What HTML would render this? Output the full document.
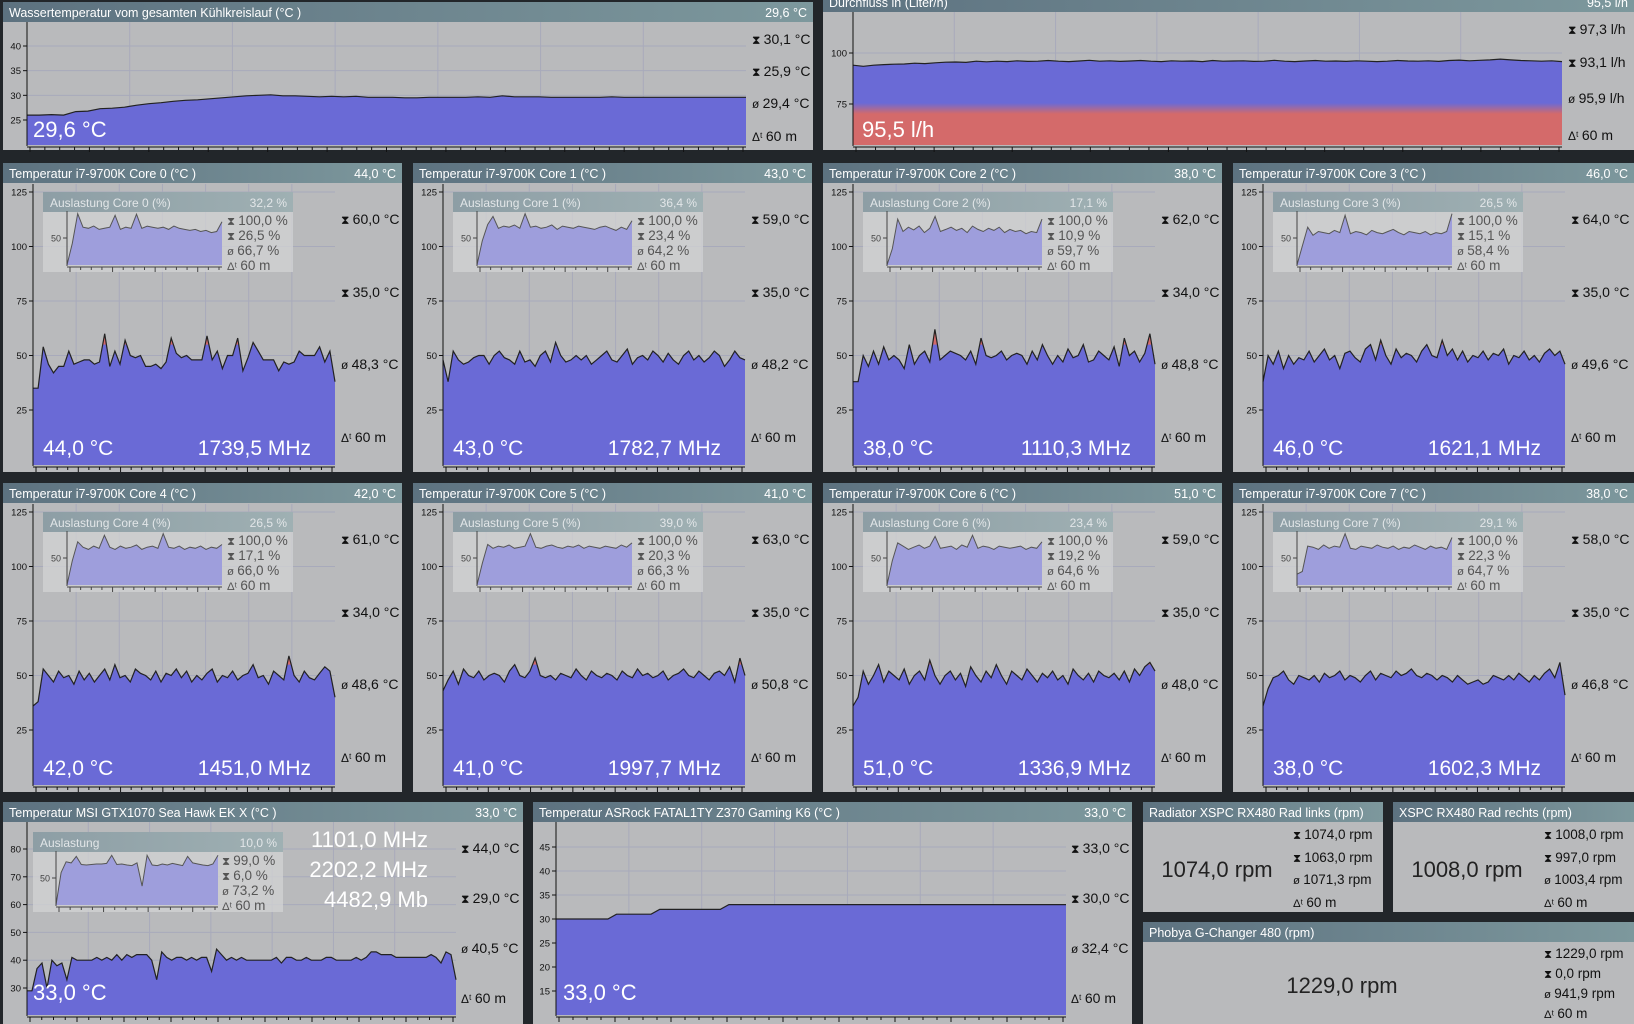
<!DOCTYPE html>
<html><head><meta charset="utf-8">
<style>
html,body{margin:0;padding:0;background:#22262a;width:1634px;height:1024px;overflow:hidden}
svg{display:block;font-family:"Liberation Sans","DejaVu Sans",sans-serif}
</style></head>
<body>
<svg id="root" xmlns="http://www.w3.org/2000/svg" width="1634" height="1024" viewBox="0 0 1634 1024">
<defs>
<linearGradient id="hdr" x1="0" x2="1" y1="0" y2="0"><stop offset="0" stop-color="#5d7280"/><stop offset="1" stop-color="#7d989d"/></linearGradient>
<linearGradient id="ihdr" x1="0" x2="1" y1="0" y2="0"><stop offset="0" stop-color="#8d9ea5"/><stop offset="1" stop-color="#9fb0b3"/></linearGradient>
<linearGradient id="flowgrad" gradientUnits="userSpaceOnUse" x1="0" x2="0" y1="103" y2="114"><stop offset="0" stop-color="#6a6ad6"/><stop offset="1" stop-color="#d46a6a"/></linearGradient>
</defs>
<rect x="0" y="0" width="1634" height="1024" fill="#22262a"/>
</svg>
<script>
// ---- data ----
const waterTemp = [26,26,26.1,26,26.7,26.8,27.3,27.4,27.6,28,28.3,28.5,28.8,29,29.1,29.3,29.5,29.7,29.9,30,30.1,29.9,29.9,29.8,29.7,29.8,29.7,29.8,29.6,29.6,29.6,29.5,29.5,29.6,29.6,29.6,29.6,29.7,29.6,29.9,29.7,29.7,29.7,29.6,29.6,29.6,29.6,29.6,29.7,29.6,29.6,29.6,29.6,29.6,29.6,29.6,29.6,29.6,29.6,29.6];
const flowRate = [94,93.5,94,94.3,94.5,94.6,95,94.8,95.2,95.5,95.6,95.4,96,95.7,96,95.8,96.2,95.9,96,96.3,96,95.8,96.1,96.4,96,96.2,95.9,96.1,96.3,96,95.8,96.2,96,96.1,95.8,96.3,96,96.1,96.2,95.9,96,96.4,96,95.8,96.1,96.3,96,96.1,95.9,96.2,96,95.8,96,96.3,96.1,96,96.2,95.9,96.3,96.5,96.2,96.4,96.6,97,96.6,96.3,96.2,96,96.2,95.8];
const core0 = [35,35,54,46,42,45,45,52,46,47,48,48,46,47,60,45,52,46,57,50,49,50,45,45,46,44,47,58,51,49,50,48,48,48,59,48,52,44,50,50,58,43,49,56,52,48,48,48,43,47,46,47,52,50,50,50,54,47,52,38];
const core1 = [48,38,52,48,46,47,49,50,50,46,50,52,49,48,46,52,47,48,45,50,52,47,56,50,47,48,50,48,50,46,48,50,52,48,47,50,53,46,49,50,48,52,50,47,51,48,46,50,52,48,50,47,49,52,50,45,48,52,49,48];
const core2 = [38,38,50,45,52,46,54,48,50,48,44,55,46,50,52,47,62,48,50,52,51,50,48,52,46,58,50,49,50,52,48,50,51,50,46,52,48,55,50,46,50,47,53,49,50,55,47,48,52,50,48,54,45,58,50,52,47,51,60,46];
const core3 = [38,50,46,52,44,50,46,49,48,52,47,50,53,48,50,44,51,52,49,47,53,55,48,57,50,46,53,49,51,50,47,52,55,50,49,57,50,53,48,52,47,50,49,52,48,51,50,53,46,50,49,52,48,50,47,51,53,50,52,46];
const core4 = [36,38,53,50,47,52,49,50,46,52,48,51,47,50,53,48,55,49,50,47,53,51,50,48,52,47,51,50,53,49,52,47,50,48,51,53,47,50,49,52,48,50,51,55,49,50,46,52,50,48,59,50,47,52,49,48,51,54,52,40];
const core5 = [43,48,52,46,53,50,49,52,48,50,51,50,47,52,55,50,49,52,58,50,49,50,48,51,50,49,53,50,48,52,50,49,51,50,48,52,50,49,53,50,51,49,50,52,48,50,51,53,50,49,52,50,48,51,52,50,54,47,58,50];
const core6 = [36,40,52,46,50,55,47,52,50,48,53,46,50,52,48,57,50,46,50,52,48,51,45,54,50,47,52,49,55,50,46,52,50,48,53,50,47,51,49,52,48,50,46,53,50,48,51,47,52,50,49,51,48,52,47,53,50,54,56,52];
const core7 = [36,44,49,50,52,48,46,50,49,48,50,47,51,49,50,52,48,50,49,47,50,52,48,51,50,49,52,50,51,53,50,49,51,50,48,50,49,47,50,48,46,47,48,46,47,50,49,48,50,48,51,49,47,50,48,51,53,49,56,41];
const use0 = [0,40,95,70,68,72,66,68,70,92,66,70,68,94,68,72,70,68,70,66,72,68,66,64,66,62,64,60,62,80];
const use1 = [0,45,75,90,68,72,70,74,68,95,70,72,68,70,74,66,72,70,68,72,70,68,66,70,72,68,64,70,66,82];
const use2 = [0,30,85,62,70,65,72,60,68,90,62,66,70,64,68,60,72,66,62,68,64,70,60,66,62,64,58,62,60,85];
const use3 = [0,35,70,55,62,60,58,64,60,92,58,62,60,56,64,60,58,62,66,60,56,62,60,58,62,56,60,58,62,95];
const use4 = [0,45,80,70,66,72,68,92,70,66,72,68,70,74,66,70,72,68,95,70,68,72,66,70,68,72,66,70,68,75];
const use5 = [0,40,75,68,72,70,74,68,70,72,95,70,68,72,74,70,68,72,70,74,68,72,70,68,72,70,68,74,70,78];
const use6 = [0,45,78,72,66,70,74,68,72,90,68,70,72,66,74,70,92,68,72,70,66,72,70,68,70,72,66,70,68,80];
const use7 = [20,25,72,70,66,74,68,72,70,95,68,66,72,70,68,74,70,68,72,66,70,68,74,70,66,72,68,70,66,88];
const gpuTemp = [29,29,37,39,30,40,38,39,33,41,40,40,40,40,41,40,41,40,42,40,42,41,42,42,42,40,33,43,41,40,41,41,40,41,40,41,41,36,44,42,40,41,40,41,40,40,40,40,40,40,41,39,41,41,40,40,41,40,40,40,41,41,40,40,40,40,41,40,41,43,43,42,42,42,41,41,41,41,41,41,41,42,41,39,43,42,33];
const gpuUse = [0,60,80,78,90,75,74,75,76,76,77,92,75,76,74,73,78,35,92,74,73,76,74,77,75,73,90,78,76,74,73,76,92];
const boardTemp = [30,30,30,30,30,30,30,31,31,31,31,31,32,32,32,32,32,32,32,32,33,33,33,33,33,33,33,33,33,33,33,33,33,33,33,33,33,33,33,33,33,33,33,33,33,33,33,33,33,33,33,33,33,33,33,33,33,33,33,33];
const coreSeries = [core0,core1,core2,core3,core4,core5,core6,core7];
const coreUse = [use0,use1,use2,use3,use4,use5,use6,use7];
const coreCur = ["44,0","43,0","38,0","46,0","42,0","41,0","51,0","38,0"];
const coreMHz = ["1739,5","1782,7","1110,3","1621,1","1451,0","1997,7","1336,9","1602,3"];
const coreMax = ["60,0","59,0","62,0","64,0","61,0","63,0","59,0","58,0"];
const coreMin = ["35,0","35,0","34,0","35,0","34,0","35,0","35,0","35,0"];
const coreAvg = ["48,3","48,2","48,8","49,6","48,6","50,8","48,0","46,8"];
const useCur = ["32,2","36,4","17,1","26,5","26,5","39,0","23,4","29,1"];
const useMin = ["26,5","23,4","10,9","15,1","17,1","20,3","19,2","22,3"];
const useAvg = ["66,7","64,2","59,7","58,4","66,0","66,3","64,6","64,7"];
const coreTicks = [25,50,75,100,125];

// ---- helpers ----
const NS="http://www.w3.org/2000/svg";
const svg=document.getElementById('root');
let clipN=0;
function mk(tag,a,p){const e=document.createElementNS(NS,tag);for(const k in a)e.setAttribute(k,a[k]);(p||svg).appendChild(e);return e;}
function txt(p,x,y,s,size,fill,anchor){const t=mk('text',{x:x,y:y,'font-size':size,fill:fill,'text-anchor':anchor||'start'},p);t.textContent=s;return t;}
function panel(x,y,w,h,title,val,name){
  const g=mk('g',{});
  
  
  const b=mk('rect',{x:x,y:y,width:w,height:h,fill:'#b9babc'},g);
  
  
  const hd=mk('rect',{x:x,y:y,width:w,height:20,fill:'url(#hdr)'},g);
  
  
  const t=txt(g,x+6,y+15,title,12.5,'#fff');
  
  
  if(val){const v=txt(g,x+w-6,y+15,val,12.5,'#fff','end');
    
    }
  return g;
}
function area(g,vals,x0,x1,yTop,yBot,va,ya,vb,yb,o){
  o=o||{};
  const yv=v=>ya+(v-va)*(yb-ya)/(vb-va);
  const xv=i=>x0+i*(x1-x0)/(vals.length-1);
  if(o.grid){
    for(let k=1;k<o.vg;k++){const gx=x0+k*(x1-x0)/o.vg;
      const l=mk('line',{x1:gx,x2:gx,y1:yTop,y2:yBot,stroke:'#a8aabb','stroke-width':1},g);
      
      }
    (o.ticks||[]).forEach(t=>{const l=mk('line',{x1:x0,x2:x1,y1:yv(t),y2:yv(t),stroke:'#a8aabb','stroke-width':1},g);
      
      });
  }
  let pts='';vals.forEach((v,i)=>{pts+=' L'+xv(i).toFixed(1)+','+yv(v).toFixed(1);});
  const d='M'+x0+','+yBot+pts+' L'+x1+','+yBot+' Z';
  if(o.red!==undefined){
    const r=mk('path',{d:d,fill:'#d46a6a'},g);
    
    
    const id='c'+(clipN++);
    const cp=mk('clipPath',{id:id},g);
    mk('rect',{x:x0-2,y:yv(o.red),width:x1-x0+4,height:yBot-yv(o.red)+2},cp);
    const a=mk('path',{d:d,fill:o.fill,'clip-path':'url(#'+id+')'},g);
    
    
  } else {
    const a=mk('path',{d:d,fill:o.fill},g);
    
    
  }
  const ln=mk('path',{d:'M'+pts.slice(2),fill:'none',stroke:o.line||'#222','stroke-width':o.lw||1.2},g);
  
  
  const ax=mk('line',{x1:x0,x2:x0,y1:yTop,y2:yBot+1,stroke:o.axc||'#111','stroke-width':1},g);
  
  
  (o.ticks||[]).forEach(t=>{
    mk('line',{x1:x0-4,x2:x0,y1:yv(t),y2:yv(t),stroke:o.axc||'#111'},g);
    const lb=txt(g,x0-6,yv(t)+3.5,String(t),o.tfs||9.5,o.axc||'#111','end');
    
    
  });
  const bx=mk('line',{x1:x0,x2:x1,y1:yBot+2,y2:yBot+2,stroke:o.axc||'#111','stroke-width':1},g);
  
  
  const nt=o.nt||24;
  for(let k=0;k<=nt;k++){const tx=x0+3+k*(x1-x0-6)/nt;
    mk('line',{x1:tx,x2:tx,y1:yBot+2,y2:yBot+(k%4==0?7:5),stroke:o.axc||'#111'},g);}
}
function stats(g,x,ys,arr,size,fill){
  const icons=['⧗','⧗','ø','Δᵗ'];
  const names=['stat-max','stat-min','stat-avg','stat-timespan'];
  arr.forEach((s,i)=>{const t=txt(g,x,ys[i]+size*0.36,'',size,fill);
    
    
    const a=mk('tspan',{'font-size':size*0.85},t);a.textContent=icons[i]+' ';
    const b=mk('tspan',{},t);b.textContent=s;});
}
function inset(g,x,y,w,title,val,vals,st,plotX0,plotX1,statX){
  const ig=mk('g',{},g);
  
  
  mk('rect',{x:x,y:y,width:w,height:80,fill:'#d3d3d4','fill-opacity':0.75},ig);
  mk('rect',{x:x,y:y,width:w,height:20,fill:'url(#ihdr)'},ig);
  const t=txt(ig,x+7,y+15,title,12,'#e2e6e8');
  
  
  const v=txt(ig,x+w-6,y+15,val,12,'#e2e6e8','end');
  
  
  area(ig,vals,plotX0,plotX1,y+19,y+73,0,y+73,100,y+19,{fill:'#9e9edc',line:'#555',lw:1,ticks:[50],tfs:9,axc:'#444',nt:14});
  stats(ig,statX,[y+28,y+43,y+58,y+73],st,13.5,'#555');
}

// ---- top panels ----
let g=panel(3,2,810,148,'Wassertemperatur vom gesamten Kühlkreislauf (°C )','29,6 °C','water-temperature-panel');
area(g,waterTemp,27,746,22,145,40,46,25,120,{fill:'#6a6ad6',grid:true,vg:7,ticks:[25,30,35,40],nt:48});
stats(g,752,[39,71,103,136],['30,1 °C','25,9 °C','29,4 °C','60 m'],14,'#111');
let bt=txt(g,33,137,'29,6 °C',22,'#fff');



g=panel(823,-8,811,158,'Durchfluss in (Liter/h)','95,5 l/h','flow-rate-panel');
area(g,flowRate,853,1562,12,145,100,53,75,104,{fill:'url(#flowgrad)',grid:true,vg:7,ticks:[75,100],nt:36});
stats(g,1568,[29,62,98,135],['97,3 l/h','93,1 l/h','95,9 l/h','60 m'],14,'#111');
bt=txt(g,862,137,'95,5 l/h',22,'#fff');



// ---- core panels ----
const colX=[3,413,823,1233];
const rowY=[163,483];
for(let c=0;c<8;c++){
  const X=colX[c%4], T=rowY[Math.floor(c/4)];
  const pg=panel(X,T,c%4==3?401:399,309,'Temperatur i7-9700K Core '+c+' (°C )',coreCur[c]+' °C','core-'+c+'-temperature-panel');
  area(pg,coreSeries[c],X+30,X+332,T+21,T+302,125,T+29,25,T+247,{fill:'#6a6ad6',red:55,grid:true,vg:7,ticks:coreTicks,nt:28});
  inset(pg,X+40,T+29,250,'Auslastung Core '+c+' (%)',useCur[c]+' %',coreUse[c],['100,0 %',useMin[c]+' %',useAvg[c]+' %','60 m'],X+64,X+219,X+224);
  stats(pg,X+338,[T+56,T+129,T+201,T+274],[coreMax[c]+' °C',coreMin[c]+' °C',coreAvg[c]+' °C','60 m'],14,'#111');
  const a=txt(pg,X+40,T+292,coreCur[c]+' °C',21,'#fff');
  
  
  const m=txt(pg,X+308,T+292,coreMHz[c]+' MHz',21,'#fff','end');
  
  
}

// ---- GPU ----
g=panel(3,802,520,222,'Temperatur MSI GTX1070 Sea Hawk EK X (°C )','33,0 °C','gpu-temperature-panel');
area(g,gpuTemp,27,456,822,1015,80,849,30,988,{fill:'#6a6ad6',grid:true,vg:7,ticks:[30,40,50,60,70,80],nt:36});
inset(g,33,832,250,'Auslastung','10,0 %',gpuUse,['99,0 %','6,0 %','73,2 %','60 m'],56,218,222);
['1101,0 MHz','2202,2 MHz','4482,9 Mb'].forEach((s,i)=>{const t=txt(g,428,847+i*30,s,22,'#fff','end');
  
  });
stats(g,461,[848,898,948,998],['44,0 °C','29,0 °C','40,5 °C','60 m'],14,'#111');
bt=txt(g,33,1000,'33,0 °C',22,'#fff');



// ---- Board ----
g=panel(533,802,599,222,'Temperatur ASRock FATAL1TY Z370 Gaming K6 (°C )','33,0 °C','board-temperature-panel');
area(g,boardTemp,556,1066,822,1015,45,847,15,991,{fill:'#6a6ad6',grid:true,vg:7,ticks:[15,20,25,30,35,40,45],nt:36});
stats(g,1071,[848,898,948,998],['33,0 °C','30,0 °C','32,4 °C','60 m'],14,'#111');
bt=txt(g,563,1000,'33,0 °C',22,'#fff');



// ---- fans ----
function fan(x,y,w,h,title,big,bigX,bigY,st,statX,sy,name){
  const fg=panel(x,y,w,h,title,null,name);
  const t=txt(fg,bigX,bigY+8,big,22,'#222','middle');
  
  
  stats(fg,statX,sy,st,13.5,'#111');
}
fan(1143,802,240,110,'Radiator XSPC RX480 Rad links (rpm)','1074,0 rpm',1217,869,['1074,0 rpm','1063,0 rpm','1071,3 rpm','60 m'],1293,[834,857,879,902],'radiator-left-fan-panel');
fan(1393,802,241,110,'XSPC RX480 Rad rechts (rpm)','1008,0 rpm',1467,869,['1008,0 rpm','997,0 rpm','1003,4 rpm','60 m'],1544,[834,857,879,902],'radiator-right-fan-panel');
fan(1143,922,491,102,'Phobya G-Changer 480 (rpm)','1229,0 rpm',1342,985,['1229,0 rpm','0,0 rpm','941,9 rpm','60 m'],1544,[953,973,993,1013],'phobya-fan-panel');
</script>
</body></html>
